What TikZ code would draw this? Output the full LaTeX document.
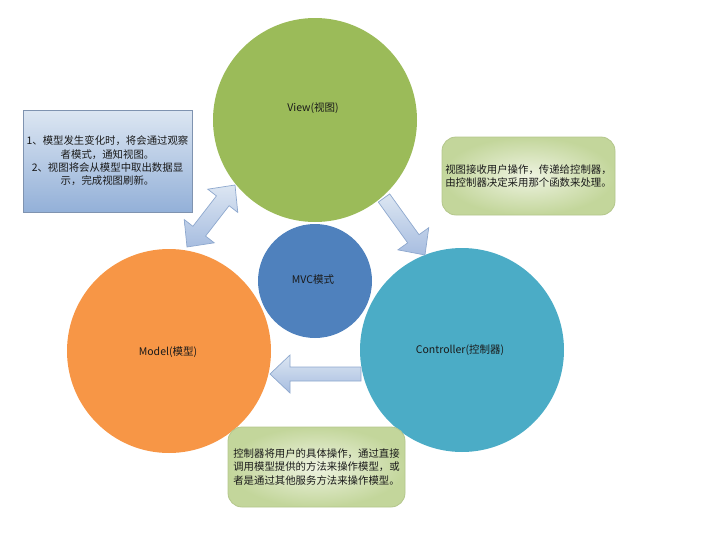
\documentclass[tikz,border=0pt]{standalone}
\usepackage{fontspec}
\setmainfont{Noto Sans CJK SC}
\usetikzlibrary{calc}
\definecolor{vgreen}{HTML}{9BBB59}
\definecolor{morange}{HTML}{F79646}
\definecolor{cteal}{HTML}{4BACC6}
\definecolor{mblue}{HTML}{4F81BD}
\definecolor{notetop}{HTML}{DCE6F2}
\definecolor{notebot}{HTML}{93B0D8}
\definecolor{noteline}{HTML}{7F93B0}
\definecolor{gin}{HTML}{EEF3E1}
\definecolor{gout}{HTML}{C3D69B}
\definecolor{gline}{HTML}{B4C78C}
\definecolor{arrtop}{HTML}{DCE6F2}
\definecolor{arrbot}{HTML}{A7BDE0}
\definecolor{arrline}{HTML}{8EA8CE}
\definecolor{txt}{HTML}{1A1A1A}
\newcommand\blkarrow[2]{%
  \path[blkarr] (#2)
    -- ($(#2)!20pt!(#1)!19pt!90:(#2)$)
    -- ($(#2)!20pt!(#1)!7pt!90:(#2)$)
    -- ($(#1)!7pt!90:(#2)$)
    -- ($(#1)!7pt!-90:(#2)$)
    -- ($(#2)!20pt!(#1)!7pt!-90:(#2)$)
    -- ($(#2)!20pt!(#1)!19pt!-90:(#2)$)
    -- cycle;}
\newcommand\dblarrow[2]{%
  \path[blkarr] (#2)
    -- ($(#2)!20pt!(#1)!19pt!90:(#2)$)
    -- ($(#2)!20pt!(#1)!8pt!90:(#2)$)
    -- ($(#1)!20pt!(#2)!8pt!-90:(#1)$)
    -- ($(#1)!20pt!(#2)!19pt!-90:(#1)$)
    -- (#1)
    -- ($(#1)!20pt!(#2)!19pt!90:(#1)$)
    -- ($(#1)!20pt!(#2)!8pt!90:(#1)$)
    -- ($(#2)!20pt!(#1)!8pt!-90:(#2)$)
    -- ($(#2)!20pt!(#1)!19pt!-90:(#2)$)
    -- cycle;}
\begin{document}
\begin{tikzpicture}[x=1pt,y=-1pt,
  circ/.style={circle, inner sep=0pt, minimum size=#1},
  lbl/.style={text=txt, font=\fontsize{10.5}{12}\selectfont, inner sep=0pt},
  boxtxt/.style={text=txt, font=\fontsize{10.4}{13.3}\selectfont},
  note/.style={boxtxt, draw=noteline, line width=0.8pt, top color=notetop, bottom color=notebot, align=center, inner sep=0pt},
  gnote/.style={boxtxt, draw=gline, line width=0.8pt, inner color=gin, outer color=gout, rounded corners=14pt, align=left, inner sep=0pt},
  blkarr/.style={draw=arrline, line width=0.7pt, top color=arrtop, bottom color=arrbot, line join=miter}
]
\useasboundingbox (0,0) rectangle (707,541);
% circles
\node[circ=204pt, fill=vgreen] (view) at (315,120) {};
\node[circ=204pt, fill=morange] (model) at (169,351) {};
\node[circ=204pt, fill=cteal] (ctrl) at (462,350) {};
\node[circ=114pt, fill=mblue] (mvc) at (315,281) {};
\node[lbl] (viewt) at (313,108) {View(视图)};
\node[lbl] (modelt) at (168,352) {Model(模型)};
\node[lbl] (ctrlt) at (460,350) {Controller(控制器)};
\node[lbl] (mvct) at (313,280) {MVC模式};
% arrows
\coordinate (dA) at (235,185);
\coordinate (dB) at (187,247);
\dblarrow{dA}{dB}
\coordinate (vcTail) at (384,198);
\coordinate (vcTip) at (425,255);
\blkarrow{vcTail}{vcTip}
\coordinate (cmTail) at (361,374);
\coordinate (cmTip) at (270,374);
\blkarrow{cmTail}{cmTip}
% notes
\node[note, minimum width=169pt, minimum height=102pt] (note1) at (107.5,161)
  {1、模型发生变化时，将会通过观察\\者模式，通知视图。\\2、视图将会从模型中取出数据显\\示，完成视图刷新。};
\node[gnote, minimum width=173pt, minimum height=78pt] (note2) at (528.5,176)
  {视图接收用户操作，传递给控制器，\\由控制器决定采用那个函数来处理。};
\node[gnote, minimum width=177pt, minimum height=80pt] (note3) at (316.5,467)
  {控制器将用户的具体操作，通过直接\\调用模型提供的方法来操作模型，或\\者是通过其他服务方法来操作模型。};
\end{tikzpicture}
\end{document}
